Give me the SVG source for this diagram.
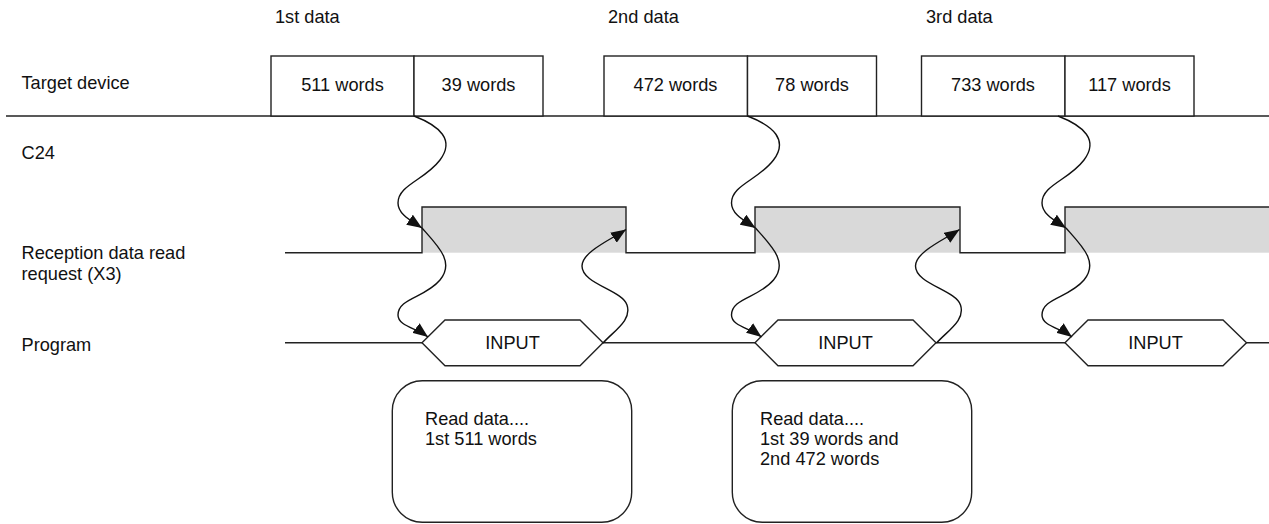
<svg xmlns="http://www.w3.org/2000/svg" width="1269" height="524" viewBox="0 0 1269 524">
<style>
text{font-family:"Liberation Sans",Arial,sans-serif;font-size:18.2px;fill:#111}
.c{text-anchor:middle}
.ln{fill:none;stroke:#222;stroke-width:1.4}
.box{fill:#fff;stroke:#222;stroke-width:1.4}
.hi{fill:#d9d9d9;stroke:none}
.cv{fill:none;stroke:#111;stroke-width:1.4;marker-end:url(#ah)}
</style>
<defs>
<marker id="ah" markerUnits="userSpaceOnUse" markerWidth="16" markerHeight="12" refX="15" refY="6" orient="auto">
<path d="M0,0 L15,6 L0,12 z" fill="#111"/>
</marker>
<g id="curvesA">
<path class="cv" d="M414,116 C440,126 455,140 440,160 C425,180 398,185 398,203 C398,214 410,220 422,228"/>
<path class="cv" d="M422,228 C438,246 455,262 440,280 C425,298 398,298 398,315 C398,326 416,328 428,337"/>
</g>
<path id="ret" class="cv" d="M603,343 C615,330 632,320 627,305 C622,290 582,284 582,266 C582,252 610,240 626,229.5"/>
</defs>

<g id="labels">
<text x="21.5" y="88.5">Target device</text>
<text x="21.5" y="159">C24</text>
<text x="21.5" y="259">Reception data read</text>
<text x="21.5" y="280">request (X3)</text>
<text x="21.5" y="351">Program</text>
<text x="275" y="22.5">1st data</text>
<text x="608" y="22.5">2nd data</text>
<text x="926" y="22.5">3rd data</text>
</g>

<g id="timeline-target">
<line class="ln" x1="6" y1="116" x2="1269" y2="116"/>
</g>
<g id="data1">
<rect class="box" x="271" y="56" width="143" height="60"/>
<text class="c" x="342.5" y="91">511 words</text>
<rect class="box" x="414" y="56" width="129" height="60"/>
<text class="c" x="478.5" y="91">39 words</text>
</g>
<g id="data2">
<rect class="box" x="604" y="56" width="143.5" height="60"/>
<text class="c" x="675.5" y="91">472 words</text>
<rect class="box" x="747.5" y="56" width="129" height="60"/>
<text class="c" x="812" y="91">78 words</text>
</g>
<g id="data3">
<rect class="box" x="921.5" y="56" width="143.5" height="60"/>
<text class="c" x="993" y="91">733 words</text>
<rect class="box" x="1065" y="56" width="129" height="60"/>
<text class="c" x="1129.5" y="91">117 words</text>
</g>

<g id="x3-signal">
<rect class="hi" x="422" y="207" width="204" height="45.7"/>
<rect class="hi" x="755" y="207" width="205" height="45.7"/>
<rect class="hi" x="1065" y="207" width="204" height="45.7"/>
<path class="ln" d="M285,252.7 H422 V207 H626 V252.7 H755 V207 H960 V252.7 H1065 V207 H1269"/>
</g>

<g id="program-line">
<line class="ln" x1="285" y1="342.7" x2="1269" y2="342.7"/>
</g>
<g id="input1">
<polygon class="box" points="422,342.7 445,320 580,320 603,342.7 580,365.7 445,365.7"/>
<text class="c" x="512.5" y="349">INPUT</text>
</g>
<g id="input2">
<polygon class="box" points="755,342.7 778,320 913,320 936,342.7 913,365.7 778,365.7"/>
<text class="c" x="845.5" y="349">INPUT</text>
</g>
<g id="input3">
<polygon class="box" points="1065,342.7 1088,320 1223,320 1246.5,342.7 1223,365.7 1088,365.7"/>
<text class="c" x="1155.5" y="349">INPUT</text>
</g>

<g id="note1">
<rect class="box" x="392.3" y="380.7" width="239.4" height="141.5" rx="30" ry="30"/>
<text x="425" y="425">Read data....</text>
<text x="425" y="445">1st 511 words</text>
</g>
<g id="note2">
<rect class="box" x="732.3" y="380.7" width="239.4" height="141.5" rx="30" ry="30"/>
<text x="760" y="425">Read data....</text>
<text x="760" y="445">1st 39 words and</text>
<text x="760" y="465">2nd 472 words</text>
</g>

<g id="connectors">
<use href="#curvesA"/>
<use href="#ret"/>
<use href="#curvesA" transform="translate(333.5,0)"/>
<use href="#ret" transform="translate(333.5,0)"/>
<use href="#curvesA" transform="translate(644,0)"/>
</g>
</svg>
